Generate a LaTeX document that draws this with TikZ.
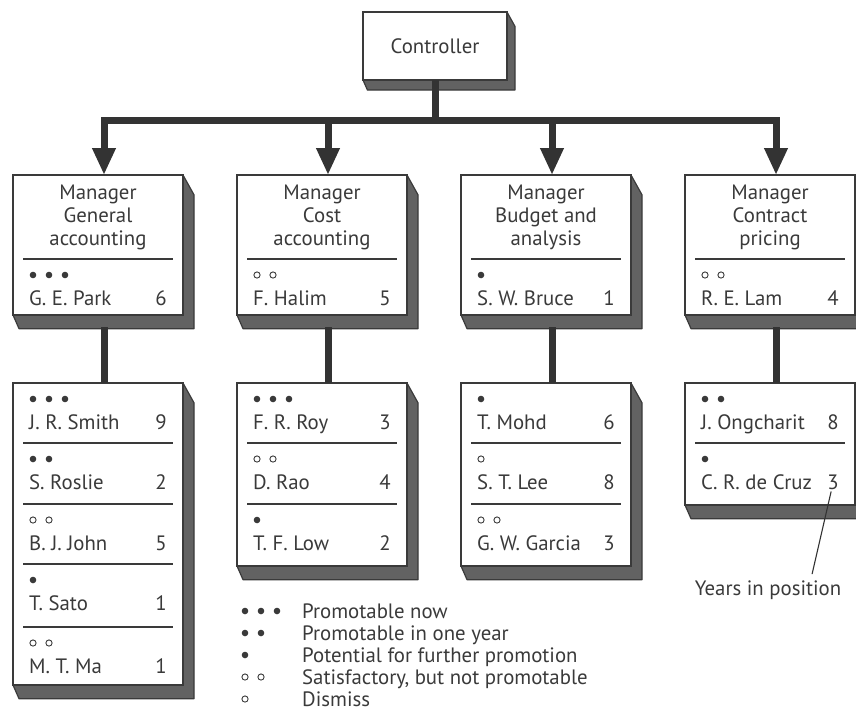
\documentclass[tikz,border=0pt]{standalone}
\usepackage{fontspec}
\setmainfont{PT Sans}
\usetikzlibrary{arrows.meta,calc}
\definecolor{textc}{HTML}{3A3A3A}
\definecolor{edgec}{HTML}{3A3A3A}
\definecolor{shadowc}{HTML}{626262}
\definecolor{connc}{HTML}{333333}
\tikzset{
  frontbox/.style={draw=edgec, fill=white, line width=1.6pt, inner sep=0pt, outer sep=0pt},
  shadowpoly/.style={fill=shadowc, draw=edgec, line width=1.2pt, line join=round},
  sepline/.style={draw=edgec, line width=1.6pt},
  conn/.style={draw=connc, line width=7pt},
  arr/.style={-{Triangle[length=27pt,width=22pt]}},
  txt/.style={text=textc, inner sep=0pt, font=\fontsize{20.8}{23}\selectfont},
  ttl/.style={txt, align=center},
  dotf/.style={fill=textc},
  doto/.style={draw=textc, line width=0.9pt},
  leader/.style={draw=connc, line width=1.1pt},
}
% box with extruded shadow: name, left x, top y, width, height, depth
\newcommand{\orgbox}[6]{%
  \path[shadowpoly] ({#2+#4},{#3}) -- ({#2+#4+#6},{#3+1.8*#6}) -- ({#2+#4+#6},{#3+#5+1.25*#6})
     -- ({#2+0.55*#6},{#3+#5+1.25*#6}) -- ({#2},{#3+#5}) -- cycle;
  \node[frontbox, anchor=north west, minimum width=#4pt, minimum height=#5pt] (#1) at ({#2},{#3}) {};
}
% dots: count, x of first, y
\newcommand{\dF}[3]{\foreach \k in {1,...,#1}{\fill[dotf] ({#2+16*(\k-1)},{#3}) circle (3.3pt);}}
\newcommand{\dO}[3]{\foreach \k in {1,...,#1}{\draw[doto] ({#2+16*(\k-1)},{#3}) circle (3.1pt);}}
% entry: node name, box left x, row top y, dots command, dot count, name, years
\newcommand{\pentry}[7]{%
  #4{#5}{#2+20}{#3+16}
  \node[txt, anchor=base west] (#1n) at ({#2+16},{#3+46}) {#6};
  \node[txt, anchor=base east] (#1y) at ({#2+170-16},{#3+46}) {#7};
}
\newcommand{\sepl}[2]{\draw[sepline] ({#1+10},{#2}) -- ({#1+160},{#2});}
\begin{document}
\begin{tikzpicture}[x=1pt,y=-1pt]
\useasboundingbox (0,0) rectangle (856,713);

% controller
\orgbox{ctrl}{363}{12}{144}{68}{8}
\node[txt] (ctrlt) at (ctrl.center) {Controller};

% manager boxes
\orgbox{m1}{13}{175}{170}{140}{11}
\orgbox{m2}{237}{175}{170}{140}{11}
\orgbox{m3}{461}{175}{170}{140}{11}
\orgbox{m4}{685}{175}{170}{140}{11}
\node[ttl, anchor=north] (m1t) at (98,185) {Manager\\General\\accounting};
\node[ttl, anchor=north] (m2t) at (322,185) {Manager\\Cost\\accounting};
\node[ttl, anchor=north] (m3t) at (546,185) {Manager\\Budget and\\analysis};
\node[ttl, anchor=north] (m4t) at (770,185) {Manager\\Contract\\pricing};
\sepl{13}{259} \sepl{237}{259} \sepl{461}{259} \sepl{685}{259}
\pentry{p1}{13}{259}{\dF}{3}{G. E. Park}{6}
\pentry{p2}{237}{259}{\dO}{2}{F. Halim}{5}
\pentry{p3}{461}{259}{\dF}{1}{S. W. Bruce}{1}
\pentry{p4}{685}{259}{\dO}{2}{R. E. Lam}{4}

% subordinate boxes
\orgbox{s1}{13}{383}{170}{302}{11}
\orgbox{s2}{237}{383}{170}{183}{11}
\orgbox{s3}{461}{383}{170}{183}{11}
\orgbox{s4}{685}{383}{170}{122}{11}

\pentry{a1}{13}{383}{\dF}{3}{J. R. Smith}{9}
\sepl{13}{443}
\pentry{a2}{13}{443}{\dF}{2}{S. Roslie}{2}
\sepl{13}{504}
\pentry{a3}{13}{504}{\dO}{2}{B. J. John}{5}
\sepl{13}{564}
\pentry{a4}{13}{564}{\dF}{1}{T. Sato}{1}
\sepl{13}{627}
\pentry{a5}{13}{627}{\dO}{2}{M. T. Ma}{1}

\pentry{b1}{237}{383}{\dF}{3}{F. R. Roy}{3}
\sepl{237}{443}
\pentry{b2}{237}{443}{\dO}{2}{D. Rao}{4}
\sepl{237}{504}
\pentry{b3}{237}{504}{\dF}{1}{T. F. Low}{2}

\pentry{c1}{461}{383}{\dF}{1}{T. Mohd}{6}
\sepl{461}{443}
\pentry{c2}{461}{443}{\dO}{1}{S. T. Lee}{8}
\sepl{461}{504}
\pentry{c3}{461}{504}{\dO}{2}{G. W. Garcia}{3}

\pentry{d1}{685}{383}{\dF}{2}{J. Ongcharit}{8}
\sepl{685}{443}
\pentry{d2}{685}{443}{\dF}{1}{C. R. de Cruz}{3}

% connectors
\coordinate (bar) at (435,120);
\coordinate (in1) at (104,175);
\coordinate (in2) at (328,175);
\coordinate (in3) at (552,175);
\coordinate (in4) at (776,175);
\draw[conn] (ctrl.south) -- (bar);
\draw[conn, arr] (bar) -| (in1);
\draw[conn, arr] (bar) -| (in2);
\draw[conn, arr] (bar) -| (in3);
\draw[conn, arr] (bar) -| (in4);
\foreach \i/\x in {1/104,2/328,3/552,4/776}{
  \coordinate (out\i) at (\x,327);
  \coordinate (top\i) at (\x,383);
  \draw[conn] (out\i) -- (top\i);
}

% annotation
\node[txt, anchor=base] (yrs) at (768,595) {Years in position};
\draw[leader] ($(d2y.south)+(-2,2)$) -- ($(yrs.north)!0.6!(yrs.north east)+(0,-6)$);

% legend
\node[txt, anchor=base west] (l1) at (302,618) {Promotable now};
\node[txt, anchor=base west] (l2) at (302,640) {Promotable in one year};
\node[txt, anchor=base west] (l3) at (302,662) {Potential for further promotion};
\node[txt, anchor=base west] (l4) at (302,684) {Satisfactory, but not promotable};
\node[txt, anchor=base west] (l5) at (302,706) {Dismiss};
\dF{3}{245}{611}
\dF{2}{245}{633}
\dF{1}{245}{655}
\dO{2}{245}{677}
\dO{1}{245}{699}
\end{tikzpicture}
\end{document}
